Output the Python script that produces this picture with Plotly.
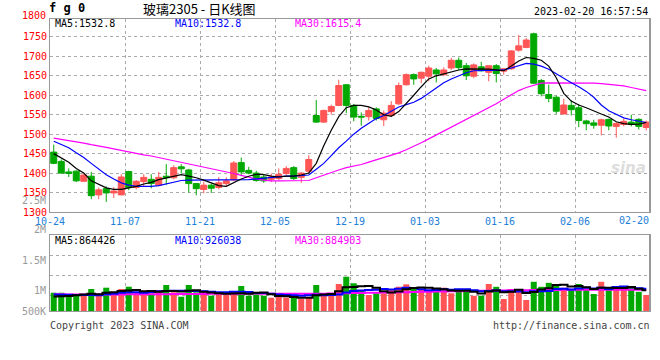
import plotly.graph_objects as go

W, H = 660, 360

# ---------------- data ----------------
open_ = [1454, 1430, 1403, 1405, 1379, 1392, 1344, 1360, 1349, 1344,
         1404, 1363, 1378, 1384, 1369, 1392, 1388, 1416, 1408, 1373,
         1358, 1369, 1363, 1373, 1382, 1427, 1407, 1400, 1390, 1384,
         1386, 1399, 1414, 1389, 1405, 1548, 1531, 1558, 1574, 1627,
         1574, 1546, 1545, 1565, 1537, 1548, 1578, 1627, 1653, 1644,
         1649, 1665, 1653, 1670, 1690, 1676, 1649, 1673, 1659, 1676,
         1662, 1668, 1716, 1723, 1758, 1638, 1602, 1595, 1552, 1574,
         1568, 1534, 1529, 1523, 1538, 1520, 1525, 1531, 1538, 1517]
high = [1473, 1435, 1412, 1407, 1397, 1403, 1363, 1366, 1364, 1397,
        1406, 1382, 1397, 1397, 1403, 1423, 1420, 1423, 1411, 1373,
        1378, 1373, 1390, 1389, 1431, 1440, 1416, 1406, 1395, 1399,
        1412, 1418, 1418, 1403, 1446, 1588, 1563, 1576, 1640, 1629,
        1578, 1556, 1569, 1569, 1561, 1585, 1633, 1656, 1656, 1661,
        1676, 1670, 1672, 1696, 1697, 1683, 1682, 1686, 1676, 1680,
        1669, 1716, 1755, 1747, 1761, 1642, 1627, 1599, 1591, 1587,
        1578, 1537, 1537, 1540, 1540, 1531, 1540, 1550, 1541, 1535]
low = [1423, 1398, 1390, 1377, 1378, 1333, 1333, 1326, 1336, 1343,
       1356, 1358, 1366, 1361, 1366, 1370, 1384, 1399, 1350, 1343,
       1348, 1349, 1358, 1366, 1379, 1392, 1397, 1378, 1375, 1377,
       1382, 1395, 1382, 1375, 1400, 1529, 1529, 1550, 1572, 1554,
       1533, 1522, 1535, 1535, 1521, 1545, 1575, 1625, 1627, 1631,
       1636, 1633, 1649, 1665, 1665, 1639, 1644, 1661, 1636, 1633,
       1653, 1666, 1712, 1721, 1629, 1597, 1582, 1552, 1551, 1548,
       1518, 1510, 1514, 1497, 1510, 1491, 1520, 1520, 1512, 1510]
close = [1425, 1400, 1399, 1380, 1395, 1342, 1357, 1349, 1354, 1390,
         1363, 1379, 1389, 1373, 1389, 1388, 1414, 1411, 1373, 1360,
         1369, 1361, 1375, 1380, 1426, 1403, 1400, 1381, 1380, 1390,
         1397, 1412, 1386, 1400, 1435, 1531, 1561, 1571, 1625, 1574,
         1544, 1544, 1561, 1540, 1554, 1574, 1625, 1653, 1642, 1659,
         1670, 1655, 1665, 1690, 1671, 1650, 1678, 1663, 1676, 1656,
         1668, 1714, 1727, 1742, 1631, 1604, 1592, 1559, 1575, 1563,
         1535, 1527, 1523, 1537, 1521, 1527, 1533, 1525, 1520, 1531]

ma5 = [1450, 1440, 1428, 1412, 1400, 1380, 1370, 1362, 1358, 1358,
       1362, 1366, 1372, 1376, 1383, 1388, 1392, 1396, 1392, 1388,
       1382, 1374, 1368, 1366, 1376, 1385, 1392, 1397, 1396, 1392,
       1390, 1392, 1392, 1395, 1400, 1425, 1470, 1510, 1545, 1568,
       1574, 1574, 1570, 1562, 1550, 1546, 1558, 1578, 1600, 1622,
       1642, 1650, 1655, 1660, 1665, 1668, 1668, 1668, 1667, 1665,
       1663, 1675, 1688, 1697, 1695, 1690, 1675, 1645, 1605, 1585,
       1575, 1568, 1561, 1552, 1544, 1532, 1527, 1525, 1526, 1530]
ma10 = [1482, 1474, 1465, 1452, 1440, 1425, 1410, 1396, 1385, 1375,
        1369, 1366, 1366, 1366, 1368, 1372, 1377, 1381, 1382, 1382,
        1382, 1382, 1382, 1382, 1382, 1382, 1383, 1385, 1387, 1389,
        1390, 1392, 1392, 1393, 1395, 1410, 1425, 1445, 1465, 1482,
        1500, 1515, 1528, 1540, 1548, 1560, 1570, 1576, 1582, 1592,
        1605, 1618, 1632, 1642, 1650, 1658, 1663, 1664, 1664, 1664,
        1665, 1670, 1676, 1682, 1680, 1675, 1667, 1655, 1645, 1632,
        1622, 1610, 1595, 1575, 1560, 1550, 1542, 1537, 1533, 1530]
ma30 = [1490, 1487, 1484, 1480, 1477, 1473, 1470, 1466, 1462, 1458,
        1454, 1451, 1447, 1444, 1440, 1436, 1432, 1428, 1424, 1420,
        1416, 1412, 1408, 1404, 1399, 1394, 1389, 1385, 1382, 1380,
        1380, 1380, 1380, 1380, 1381, 1388, 1395, 1402, 1408, 1414,
        1418, 1422, 1428, 1434, 1440, 1446, 1452, 1460, 1468, 1478,
        1488, 1498, 1508, 1518, 1528, 1538, 1548, 1558, 1566, 1578,
        1590, 1602, 1612, 1620, 1626, 1631, 1632, 1632, 1632, 1632,
        1632, 1631, 1631, 1630, 1628, 1627, 1624, 1620, 1616, 1612]

volume = [759, 759, 635, 635, 635, 913, 635, 967, 735, 913,
          1008, 735, 735, 735, 872, 1079, 776, 593, 1079, 776,
          776, 635, 735, 664, 830, 1038, 635, 693, 635, 552,
          593, 552, 552, 498, 552, 1079, 693, 635, 1121, 1423,
          1150, 830, 664, 735, 735, 913, 1008, 1108, 996, 892,
          789, 872, 967, 735, 818, 830, 631, 635, 1121, 1004,
          498, 913, 872, 457, 1212, 1004, 1170, 1079, 967, 872,
          1121, 913, 706, 1212, 872, 1038, 913, 967, 797, 664]  # thousands
vol_ma5 = [600, 610, 620, 650, 685, 715, 690, 760, 780, 830,
           850, 870, 820, 825, 800, 830, 830, 810, 840, 860,
           800, 770, 740, 720, 730, 740, 720, 760, 770, 700,
           620, 610, 580, 550, 550, 650, 680, 710, 815, 990,
           1000, 1030, 1040, 960, 820, 770, 810, 900, 950, 980,
           960, 930, 900, 850, 840, 845, 795, 730, 810, 850,
           780, 800, 880, 750, 790, 890, 940, 1080, 1085, 1020,
           1040, 990, 915, 965, 965, 950, 950, 1000, 920, 865]
vol_ma10 = [680, 675, 670, 665, 660, 660, 655, 700, 715, 757,
            782, 780, 755, 790, 815, 830, 845, 840, 830, 830,
            815, 800, 775, 780, 795, 800, 785, 750, 745, 720,
            680, 665, 650, 635, 650, 675, 650, 660, 683, 770,
            825, 855, 875, 885, 910, 890, 920, 970, 955, 900,
            860, 870, 900, 885, 900, 900, 860, 815, 830, 850,
            815, 820, 805, 780, 815, 820, 825, 915, 920, 890,
            930, 970, 930, 960, 915, 995, 1018, 990, 945, 926]
vol_ma30 = [690, 690, 689, 688, 688, 687, 686, 686, 687, 688,
            690, 692, 694, 696, 698, 700, 702, 704, 706, 708,
            710, 712, 714, 716, 718, 720, 722, 722, 721, 720,
            719, 718, 717, 716, 715, 716, 718, 722, 728, 736,
            745, 750, 755, 760, 765, 770, 776, 782, 788, 794,
            800, 806, 812, 818, 824, 830, 835, 840, 845, 850,
            854, 858, 862, 866, 870, 872, 874, 876, 878, 880,
            881, 882, 883, 884, 884, 885, 885, 885, 885, 885]

tick_labels = ["10-24", "11-07", "11-21", "12-05", "12-19", "01-03", "01-16", "02-06", "02-20"]
tick_index = [0, 10, 20, 30, 40, 50, 60, 70, 79]
price_ticks = [1300, 1350, 1400, 1450, 1500, 1550, 1600, 1650, 1700, 1750, 1800]
vol_tick_labels = ["2.5M", "2M", "1.5M", "1M", "500K"]

legend_main = {"MA5": "1532.8", "MA10": "1532.8", "MA30": "1615.4"}
legend_vol = {"MA5": "864426", "MA10": "926038", "MA30": "884903"}
title_code = "f g 0"
title_text = "玻璃2305 - 日K线图"
timestamp = "2023-02-20 16:57:54"

# ---------------- styling ----------------
RED = "#FF5555"
GREEN = "#00A800"
MONO = "DejaVu Sans Mono"
GRID = "#AAAAAA"
BORDER = "#999999"


def fx(p):
    return p / W


def fy(p):
    return 1 - p / H


x = list(range(len(close)))
vol_units = [v * 1000 for v in volume]
vol_colors = [RED if c >= o else GREEN for o, c in zip(open_, close)]

fig = go.Figure()

fig.add_trace(go.Candlestick(
    x=x, open=open_, high=high, low=low, close=close,
    increasing=dict(line=dict(color=RED, width=1), fillcolor=RED),
    decreasing=dict(line=dict(color=GREEN, width=1), fillcolor=GREEN),
    whiskerwidth=0, showlegend=False, hoverinfo="skip",
    xaxis="x", yaxis="y"))

for series, col in ((ma30, "#FF00FF"), (ma10, "#0000FF"), (ma5, "#000000")):
    fig.add_trace(go.Scatter(x=x, y=series, mode="lines",
                             line=dict(color=col, width=1.2),
                             showlegend=False, hoverinfo="skip",
                             xaxis="x", yaxis="y"))

fig.add_trace(go.Bar(x=x, y=vol_units, marker=dict(color=vol_colors, line=dict(width=0)),
                     width=0.8, showlegend=False, hoverinfo="skip",
                     xaxis="x2", yaxis="y2"))

for series, col in ((vol_ma30, "#FF00FF"), (vol_ma10, "#0000FF"), (vol_ma5, "#000000")):
    fig.add_trace(go.Scatter(x=x, y=[v * 1000 for v in series], mode="lines",
                             line=dict(color=col, width=2, shape="hvh"),
                             showlegend=False, hoverinfo="skip",
                             xaxis="x2", yaxis="y2"))

xdom = [fx(50), fx(650)]
xr = [-0.5, len(close) - 0.5]
grid_x = [i - 0.5 for i in tick_index[:-1]]

common_x = dict(domain=xdom, range=xr, showgrid=True, gridcolor=GRID, griddash="dot",
                gridwidth=1, showline=True, mirror=True, linecolor=BORDER, linewidth=1,
                zeroline=False, ticks="", fixedrange=True, automargin=False)

fig.update_layout(
    width=W, height=H,
    margin=dict(l=0, r=0, t=0, b=0, autoexpand=False),
    paper_bgcolor="white", plot_bgcolor="white",
    font=dict(family=MONO, size=10, color="#000"),
    showlegend=False,
    boxgap=0.2, boxgroupgap=0,
    bargap=0.2,
    xaxis=dict(**common_x, anchor="y", tickvals=grid_x, ticktext=tick_labels[:-1],
               tickfont=dict(family=MONO, size=10, color="#1E80D8"),
               rangeslider=dict(visible=False)),
    yaxis=dict(domain=[fy(212), fy(19)], range=[1300, 1796], anchor="x",
               tickvals=price_ticks[:-1], ticktext=[str(t) for t in price_ticks[:-1]],
               tickfont=dict(family=MONO, size=10, color="#FF0000"),
               showgrid=True, gridcolor=GRID, griddash="dot", zeroline=False,
               showline=True, mirror=True, linecolor=BORDER, ticks="", fixedrange=True,
               automargin=False),
    xaxis2=dict(**common_x, anchor="y2", tickvals=grid_x, showticklabels=False),
    yaxis2=dict(domain=[fy(311), fy(235)], range=[0, 3154000], anchor="x2",
                tickvals=[635000, 1465000, 2295000], showticklabels=False,
                showgrid=True, gridcolor=GRID, griddash="dot", zeroline=False,
                showline=True, mirror=True, linecolor=BORDER, ticks="", fixedrange=True,
                automargin=False),
)

# slightly heavier right-hand border, as in the reference
for yref in ("y domain", "y2 domain"):
    fig.add_shape(type="line", xref="x domain", yref=yref, x0=1, x1=1, y0=0, y1=1,
                  line=dict(color="#999999", width=2))

ann = []


def add(text, xp, yp, xanchor="left", color="#000", size=10, family=MONO, yanchor="middle"):
    ann.append(dict(text=text, x=fx(xp), y=fy(yp), xref="paper", yref="paper",
                    xanchor=xanchor, yanchor=yanchor, showarrow=False,
                    font=dict(family=family, size=size, color=color), borderpad=0))


add("<b>" + title_code + "</b>", 48, 8, size=12)
add(title_text, 199, 8, xanchor="center", family="Noto Sans CJK SC", size=13)
add(timestamp, 649, 11, xanchor="right")
add(str(price_ticks[-1]), 47, 16, xanchor="right", color="#FF0000")

main_cols = {"MA5": "#000000", "MA10": "#0000FF", "MA30": "#FF00FF"}
for (k, v), xp in zip(legend_main.items(), (54, 174, 294)):
    add(f"{k}:{v}", xp, 23.5, color=main_cols[k])
for (k, v), xp in zip(legend_vol.items(), (54, 174, 294)):
    add(f"{k}:{v}", xp, 240, color=main_cols[k])

for lab, yp in zip(vol_tick_labels, (200, 230, 260, 290.5, 311)):
    add(lab, 47, yp, xanchor="right", color="#999999", size=10)

# last date label, right-aligned at the end of the axis
ann.append(dict(text=tick_labels[-1], x=xr[1], y=fy(220.5), xref="x", yref="paper",
                xanchor="right", yanchor="middle", showarrow=False, borderpad=0,
                font=dict(family=MONO, size=10, color="#1E80D8")))

add("Copyright 2023 SINA.COM", 49, 325.5, color="#444444")
add("http://finance.sina.com.cn", 651, 325.5, xanchor="right", color="#444444")
add("<b><i>sina</i></b>", 628, 168, xanchor="center", color="#DDDDDD", size=15,
    family="DejaVu Sans")

fig.update_layout(annotations=ann)

fig.write_html("out.html",
               config={"displayModeBar": False},
               post_script="document.body.style.margin='0px';"
                           "document.body.style.overflow='hidden';")
